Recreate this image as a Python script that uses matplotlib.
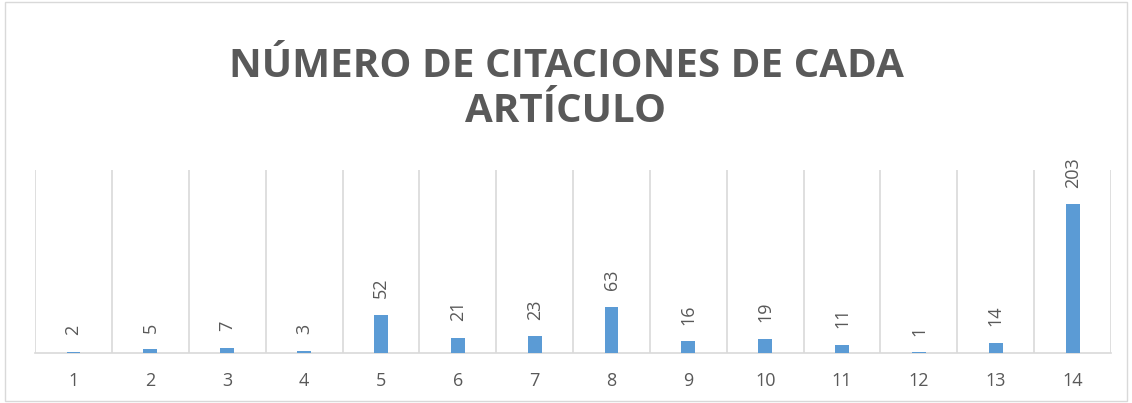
import matplotlib
matplotlib.use("Agg")
import matplotlib.pyplot as plt
from matplotlib.patches import Rectangle

categories = ["1", "2", "3", "4", "5", "6", "7", "8", "9", "10", "11", "12", "13", "14"]
values = [2, 5, 7, 3, 52, 21, 23, 63, 16, 19, 11, 1, 14, 203]
title = "NÚMERO DE CITACIONES DE CADA\nARTÍCULO"

TXT = "#595959"
GRID = "#D9D9D9"
BAR = "#5B9BD5"

fig = plt.figure(figsize=(11.32, 4.03), dpi=100)
fig.patches.append(Rectangle((0.004, 0.005), 0.992, 0.99, transform=fig.transFigure,
                             fill=False, edgecolor=GRID, linewidth=1))
ax = fig.add_axes([0.031, 0.124, 0.9505, 0.454])
x = list(range(len(categories)))
ax.bar(x, values, width=0.18, color=BAR, zorder=3)
ax.set_xlim(-0.5, len(categories) - 0.5)
ax.set_ylim(0, 250)
ax.set_yticks([])
ax.set_xticks(x)
ax.set_xticklabels(categories, fontsize=13, color=TXT, family="Open Sans")
ax.tick_params(axis="x", length=0, pad=14)
for s in ["top", "left", "right"]:
    ax.spines[s].set_visible(False)
ax.spines["bottom"].set_color(GRID)
ax.spines["bottom"].set_linewidth(1.2)
for b in [i - 0.5 for i in range(len(categories) + 1)]:
    ax.axvline(b, color=GRID, linewidth=1.2, zorder=1)
for xi, v in zip(x, values):
    ax.annotate(str(v), (xi, v), xytext=(0, 12), textcoords="offset points",
                rotation=90, ha="center", va="bottom", fontsize=13, color=TXT,
                family="Open Sans")
fig.text(0.5, 0.78, title, ha="center", va="center", fontsize=29, fontweight="bold",
         color=TXT, family="Open Sans", linespacing=1.2)
fig.savefig("out.png", dpi=100)
